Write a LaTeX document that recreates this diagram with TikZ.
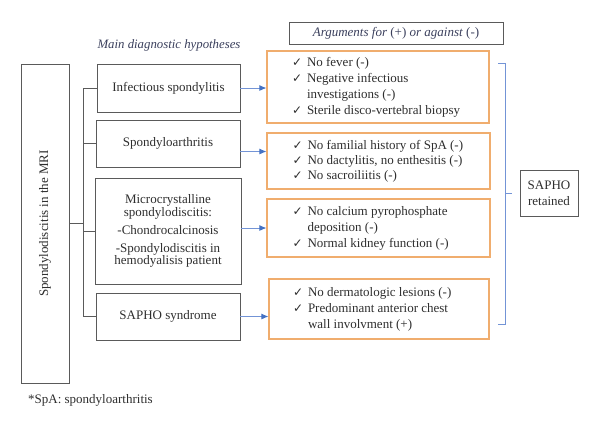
\documentclass[tikz,border=0pt]{standalone}
\usepackage{fontspec}
\setmainfont{Liberation Serif}
\newfontfamily\dejavu{DejaVu Sans}
\usetikzlibrary{arrows.meta}
\definecolor{txt}{HTML}{2E2E2E}
\definecolor{hdr}{HTML}{3A3F5C}
\definecolor{gline}{HTML}{5A5A5A}
\definecolor{orng}{HTML}{F0AD6E}
\definecolor{blu}{HTML}{4472C4}
\definecolor{blul}{HTML}{7394D6}
\newcommand\ck{{\dejavu\fontsize{12}{10}\selectfont ✓}}
\newcommand\ckm{\makebox[15pt][l]{\ck}}
\newcommand\arglist[1]{\makebox[196pt][l]{\hspace{12pt}\begin{tabular}{@{}l@{}l@{}}#1\end{tabular}}}
\tikzset{
  hbox/.style={draw=gline, line width=0.8pt, inner sep=0pt, align=center},
  obox/.style={draw=orng, line width=1.1pt, inner sep=0pt},
  arr/.style={draw=blul, line width=0.9pt, -{Latex[length=7pt,width=6pt,color=blu]}},
  brk/.style={draw=blul, line width=0.9pt},
  conn/.style={draw=gline, line width=0.8pt},
  hdrtext/.style={text=hdr, inner sep=0pt}
}
\begin{document}
\begin{tikzpicture}[x=1pt,y=-1pt, font=\fontsize{13}{16}\selectfont, text=txt]
\useasboundingbox (0,0) rectangle (600,429);
% headers
\node[hdrtext, font=\fontsize{12.8}{14}\selectfont\itshape] (h1) at (169,45) {Main diagnostic hypotheses};
\node[hbox, minimum width=214, minimum height=22, text=hdr] (h2) at (396,33) {\textit{Arguments for} (+) \textit{or against} (-)};
% left box
\node[hbox, minimum width=48, minimum height=319] (mri) at (45,223.5) {\rotatebox{90}{Spondylodiscitis in the MRI}};
% hypothesis boxes
\node[hbox, minimum width=143, minimum height=48] (b1) at (168.5,88) {Infectious spondylitis};
\node[hbox, minimum width=144, minimum height=47] (b2) at (168,143.5) {Spondyloarthritis};
\node[hbox, minimum width=146, minimum height=106, font=\fontsize{13}{12.5}\selectfont] (b3) at (168,231)
  {Microcrystalline\\spondylodiscitis:\\[5.5pt]-Chondrocalcinosis\\[5.5pt]-Spondylodiscitis in\\hemodyalisis patient};
\node[hbox, minimum width=144, minimum height=47] (b4) at (168,316.5) {SAPHO syndrome};
% argument boxes
\node[obox, minimum width=222, minimum height=72] (o1) at (378,87)
  {\arglist{\ckm & No fever (-)\\ \ckm & Negative infectious\\ & investigations (-)\\ \ckm & Sterile disco-vertebral biopsy}};
\node[obox, minimum width=223, minimum height=56, font=\fontsize{13}{15}\selectfont] (o2) at (378.5,161)
  {\arglist{\ckm & No familial history of SpA (-)\\ \ckm & No dactylitis, no enthesitis (-)\\ \ckm & No sacroiliitis (-)}};
\node[obox, minimum width=223, minimum height=58] (o3) at (378.5,228)
  {\arglist{\ckm & No calcium pyrophosphate\\ & deposition (-)\\ \ckm & Normal kidney function (-)}};
\node[obox, minimum width=220, minimum height=60] (o4) at (379,309)
  {\arglist{\ckm & No dermatologic lesions (-)\\ \ckm & Predominant anterior chest\\ & wall involvment (+)}};
% conclusion
\node[hbox, minimum width=58, minimum height=46] (sapho) at (549,193) {SAPHO\\retained};
% footnote
\node[anchor=west, inner sep=0pt, font=\fontsize{13}{14}\selectfont] (foot) at (28,400) {*SpA: spondyloarthritis};
% tree connectors
\coordinate (trunk) at (83,0);
\draw[conn] (b1.west) -- (b1.west -| trunk) -- (b4.west -| trunk) -- (b4.west);
\draw[conn] (b2.west) -- (b2.west -| trunk);
\draw[conn] (b3.west) -- (b3.west -| trunk);
\draw[conn] (mri.east) -- (mri.east -| trunk);
% arrows
\draw[arr] (b1.east) -- (b1.east -| o1.west);
\draw[arr] ([yshift=-8pt]b2.east) -- ([yshift=-8pt]b2.east -| o2.west);
\draw[arr] ([yshift=3pt]b3.east) -- ([yshift=3pt]b3.east -| o3.west);
\draw[arr] (b4.east) -- (b4.east -| o4.west);
% bracket
\coordinate (bt) at (498,63);
\coordinate (bb) at (498,324);
\coordinate (bm) at (512,193);
\draw[brk] (bt) -- (505,63) -- (505,324) -- (bb);
\draw[brk] (505,193) -- (bm);
\end{tikzpicture}
\end{document}
